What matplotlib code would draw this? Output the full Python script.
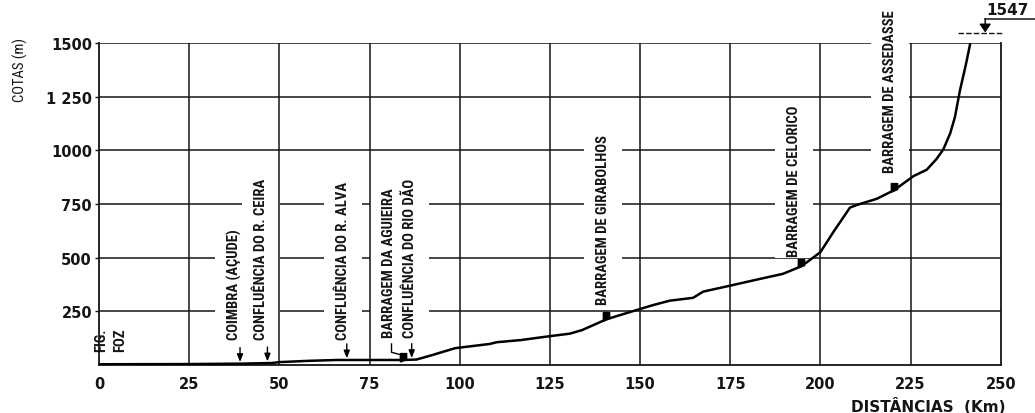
import numpy as np
import matplotlib
matplotlib.use("Agg")
import matplotlib.pyplot as plt
from matplotlib import font_manager
from matplotlib.patches import Rectangle

# Longitudinal profile of the river: distance from the mouth (km) and elevation (m)
dist_km = [0, 25, 40, 48, 50, 58, 66, 75, 84, 88, 91.8, 98.7, 104, 108.4, 110.3,
           117, 124, 130.6, 134, 140.7, 149, 154, 158.3, 164.7, 167.5, 175, 181.3,
           189.6, 193.4, 196, 200, 203.6, 208.2, 210, 215.6, 220.5, 225.8, 229.5,
           232.2, 234.1, 236, 237.3, 238.7, 240.3, 241.5, 241.8]
elev_m = [2, 3, 5, 8, 12, 18, 22, 22, 22, 24, 42, 77, 88, 97, 105,
          115, 131, 145, 162, 212, 255, 280, 299, 312, 341, 369, 393,
          424, 450, 475, 525, 619, 733, 745, 774, 815, 880, 910,
          960, 1005, 1080, 1155, 1280, 1397, 1495, 1547]

x_ticks = [0, 25, 50, 75, 100, 125, 150, 175, 200, 225, 250]
y_ticks = [250, 500, 750, 1000, 1250, 1500]
y_tick_labels = ["250", "500", "750", "1000", "1 250", "1500"]

# Dams and confluences along the river
dam_km = [84.4, 140.7, 194.5, 220.5]
confluence_km = [39.1, 46.7, 68.7, 86.7]
peak_km = 241.8
peak_m = 1547

place_names = ["FIG.", "FOZ", "COIMBRA (AÇUDE)", "CONFLUÊNCIA DO R. CEIRA",
               "CONFLUÊNCIA DO R. ALVA", "BARRAGEM DA AGUIEIRA",
               "CONFLUÊNCIA DO RIO DÃO", "BARRAGEM DE GIRABOLHOS",
               "BARRAGEM DE CELORICO", "BARRAGEM DE ASSEDASSE"]
# where each vertical label sits: (km of its centre, elevation of its foot)
place_anchor = [(0.6, 65), (5.8, 65), (37.7, 120), (44.9, 120), (67.6, 120),
                (80.4, 130), (86.2, 130), (139.7, 284), (192.7, 508), (219.3, 900)]

available = {f.name for f in font_manager.fontManager.ttflist}
narrow = next((f for f in ["Liberation Sans Narrow", "DejaVu Sans Condensed",
                           "Roboto Condensed", "Open Sans Condensed"]
               if f in available), None)
if narrow is None:
    narrow_family, narrow_size = ["DejaVu Sans"], 8.0
else:
    narrow_family, narrow_size = [narrow, "DejaVu Sans"], 10.5

fig = plt.figure(figsize=(10.35, 4.14), dpi=100)
ax = fig.add_axes([99 / 1035, 48.3 / 414, 901.7 / 1035, 321.4 / 414])
ax.set_xlim(0, 250)
ax.set_ylim(0, 1500)

ink = "#151515"
ax.hlines(y_ticks, 0, 250, color=ink, lw=1.1, zorder=1)
ax.vlines(x_ticks[1:-1], 0, 1500, color=ink, lw=1.1, zorder=2)
for side in ["left", "bottom", "right"]:
    ax.spines[side].set_color(ink)
    ax.spines[side].set_linewidth(1.3)
    ax.spines[side].set_zorder(2)
ax.spines["top"].set_visible(False)

ax.set_xticks(x_ticks)
ax.set_xticklabels([str(v) for v in x_ticks])
ax.set_yticks(y_ticks)
ax.set_yticklabels(y_tick_labels)
ax.tick_params(axis="x", length=0, pad=8)
ax.tick_params(axis="y", length=3, width=1, color=ink, pad=2)
for lab in ax.get_xticklabels() + ax.get_yticklabels():
    lab.set_fontweight("bold")
    lab.set_fontsize(10.5)
    lab.set_color(ink)

# River profile
ax.plot(dist_km, elev_m, color="black", lw=1.8, zorder=5, solid_capstyle="round")

# Dam symbols sitting on the profile
dam_elev = np.interp(dam_km, dist_km, elev_m)
dam_marker = [(-0.5, -0.25), (0.5, 0.15), (0.5, 1.1), (-0.5, 1.1), (-0.5, -0.25)]
ax.plot(dam_km, dam_elev, ls="none", marker=dam_marker, markersize=10,
        color="black", zorder=6)

# Arrows for the confluences
conf_elev = np.interp(confluence_km, dist_km, elev_m)
for k, e in zip(confluence_km, conf_elev):
    ax.annotate("", xy=(k, e + 8), xytext=(k, e + 75),
                arrowprops=dict(arrowstyle="-|>,head_length=0.45,head_width=0.18",
                                color="black", lw=1.0, shrinkA=0, shrinkB=0),
                zorder=6)

# Leader from the Aguieira label to its dam
ax.plot([81.1, 81.1, 83.3], [97, 58, 48], color="black", lw=1.0, zorder=6)

# Place labels
texts = []
for name, (k, foot) in zip(place_names, place_anchor):
    t = ax.text(k, foot, name, rotation=90, ha="center", va="bottom",
                family=narrow_family, fontsize=narrow_size, fontweight="bold",
                color=ink, zorder=4, clip_on=False)
    texts.append(t)

# Summit mark
ax.plot([238.2, 250.6], [peak_m, peak_m], color=ink, lw=1.0, ls=(0, (4, 1.5)),
        clip_on=False, zorder=6)
ax.annotate("", xy=(245.7, peak_m + 4), xytext=(245.7, 1615),
            arrowprops=dict(arrowstyle="-|>,head_length=0.5,head_width=0.35",
                            color="black", lw=1.0, shrinkA=0, shrinkB=0),
            annotation_clip=False, zorder=6)
ax.plot([245.6, 259.6], [1615, 1615], color=ink, lw=1.1, clip_on=False)
ax.text(245.9, 1622, str(peak_m), ha="left", va="bottom", fontsize=11,
        fontweight="bold", color=ink, clip_on=False)

# Axis titles
fig.text(20 / 1035, 1 - 70 / 414, "COTAS (m)", rotation=90, ha="center", va="center",
         family=narrow_family, fontsize=narrow_size, color=ink)
fig.text(928 / 1035, 1 - 407 / 414, "DISTÂNCIAS  (Km)", ha="center", va="center",
         fontsize=11, fontweight="bold", color=ink)

# Break the horizontal rules around each label
fig.canvas.draw()
renderer = fig.canvas.get_renderer()
inv = ax.transData.inverted()
margin_px = 12
for t in texts[2:]:
    bb = t.get_window_extent(renderer)
    (x0, y0) = inv.transform((bb.x0 - margin_px, bb.y0 - 2))
    (x1, y1) = inv.transform((bb.x1 + margin_px, bb.y1 + 1))
    ax.add_patch(Rectangle((x0, y0), x1 - x0, y1 - y0, facecolor="white",
                           edgecolor="none", zorder=1.5))

fig.savefig("out.png", dpi=100)
